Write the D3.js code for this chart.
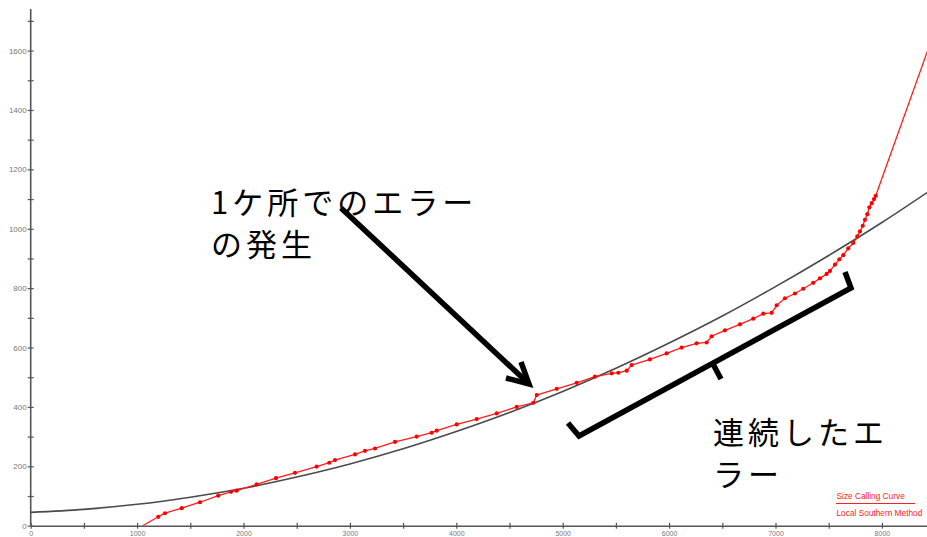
<!DOCTYPE html>
<html>
<head>
<meta charset="utf-8">
<script src="https://cdn.jsdelivr.net/npm/d3@7/dist/d3.min.js"></script>
<style>
  html, body { margin: 0; padding: 0; background: #fff; }
  svg { display: block; }
</style>
</head>
<body>
<svg id="chart" width="927" height="537"></svg>
<script>
// Fragment size (bp) vs. migration — reference curve (black)
const curveSize = [0, 500, 1000, 1500, 2000, 2500, 3000, 3500, 4000, 4500, 5000, 5500, 6000, 6500, 7000, 7500, 8000, 8500];
const curveValue = [45, 55, 72, 96, 126, 164, 208, 259, 317, 381, 452, 530, 615, 706, 805, 910, 1021, 1140];

// Local Southern method estimates (red, with markers)
const southernSize = [1053, 1199, 1262, 1419, 1591, 1763, 1882, 1936, 2124, 2305, 2484, 2688, 2806, 2860,
  3048, 3142, 3236, 3424, 3628, 3769, 3816, 4004, 4192, 4380, 4568, 4724, 4756, 4944, 5132, 5303, 5461,
  5523, 5602, 5648, 5820, 5977, 6118, 6259, 6353, 6400, 6525, 6666, 6791, 6885, 6964, 7011, 7089, 7183,
  7261, 7355, 7418, 7481, 7512, 7559, 7600, 7637, 7684, 7731, 7769, 7794, 7820, 7841, 7863, 7882, 7905,
  7926, 7942, 8430];
const southernValue = [0, 30, 42, 59, 79, 101, 114, 118, 139, 160, 178, 199, 212, 221,
  240, 252, 260, 282, 300, 313, 320, 341, 359, 378, 400, 414, 440, 461, 481, 502, 513,
  515, 522, 541, 560, 580, 600, 614, 617, 638, 658, 678, 697, 714, 717, 742, 766, 782,
  798, 818, 833, 848, 858, 879, 897, 911, 934, 952, 974, 991, 1010, 1030, 1049, 1072, 1086,
  1100, 1111, 1600];

const xTicks = [0, 500, 1000, 1500, 2000, 2500, 3000, 3500, 4000, 4500, 5000, 5500, 6000, 6500, 7000, 7500, 8000, 8500];
const yTicks = [0, 100, 200, 300, 400, 500, 600, 700, 800, 900, 1000, 1100, 1200, 1300, 1400, 1500, 1600, 1700];

const legendLabels = ["Size Calling Curve", "Local Southern Method"];

const svg = d3.select("#chart");

const x = d3.scaleLinear().domain([0, 8500]).range([30.7, 935.1]);
const y = d3.scaleLinear().domain([0, 1740]).range([525.7, 9]);

const axisColor = "#555";
const labelColor = "#777";

// Axes
const yAxis = svg.append("g")
  .attr("transform", `translate(${x(0)},0)`)
  .call(d3.axisLeft(y).tickValues(yTicks).tickSizeOuter(0)
    .tickFormat(d => d % 200 === 0 ? d : ""));
yAxis.select(".domain").attr("stroke", axisColor).attr("stroke-width", 1.6)
  .attr("d", `M0,${y(1740)}V${y(0)}`);
yAxis.selectAll(".tick line").attr("x1", -3).attr("x2", 3).attr("stroke", axisColor).attr("stroke-width", 1.2);
yAxis.selectAll(".tick text").attr("x", -4).attr("fill", labelColor)
  .style("font-family", "Liberation Sans, Arial, sans-serif").style("font-size", "8px");

const xAxis = svg.append("g")
  .attr("transform", `translate(0,${y(0)})`)
  .call(d3.axisBottom(x).tickValues(xTicks).tickSizeOuter(0)
    .tickFormat(d => d % 1000 === 0 ? d : ""));
xAxis.select(".domain").attr("stroke", axisColor).attr("stroke-width", 1.6);
xAxis.selectAll(".tick line").attr("y1", -3).attr("y2", 3).attr("stroke", axisColor).attr("stroke-width", 1.2);
xAxis.selectAll(".tick text").attr("y", 5).attr("dy", "0.71em").attr("fill", labelColor)
  .style("font-family", "Liberation Sans, Arial, sans-serif").style("font-size", "7px");

// Plot clip
svg.append("clipPath").attr("id", "plot")
  .append("rect").attr("x", x(0)).attr("y", 0).attr("width", 927 - x(0)).attr("height", y(0));

const plot = svg.append("g").attr("clip-path", "url(#plot)");

const line = d3.line().x(d => x(d[0])).y(d => y(d[1])).curve(d3.curveMonotoneX);

const curvePts = curveSize.map((s, i) => [s, curveValue[i]]);
plot.append("path").datum(curvePts)
  .attr("d", line)
  .attr("fill", "none")
  .attr("stroke", "#4a4a4a")
  .attr("stroke-width", 1.6);

const redPts = southernSize.map((s, i) => [s, southernValue[i]]);
plot.append("path").datum(redPts)
  .attr("d", d3.line().x(d => x(d[0])).y(d => y(d[1])))
  .attr("fill", "none")
  .attr("stroke", "#ff1a1a")
  .attr("stroke-width", 1.3);

plot.selectAll("circle.pt").data(redPts.slice(1, -1)).join("circle")
  .attr("class", "pt")
  .attr("cx", d => x(d[0]))
  .attr("cy", d => y(d[1]))
  .attr("r", 2.1)
  .attr("fill", "#ff0000");

// Legend
const legend = svg.append("g").style("font-family", "Liberation Sans, Arial, sans-serif")
  .style("font-size", "8.3px").attr("fill", "#ff2020");
legend.append("text").attr("x", 836.5).attr("y", 499).text(legendLabels[0]);
legend.append("line").attr("x1", 836).attr("x2", 915).attr("y1", 503.5).attr("y2", 503.5)
  .attr("stroke", "#ff2020").attr("stroke-width", 1);
legend.append("text").attr("x", 836.5).attr("y", 516).text(legendLabels[1]);

// Annotations
const jp = "Noto Sans CJK JP, sans-serif";
const ann = svg.append("g").style("font-family", jp).style("font-size", "31px")
  .style("letter-spacing", "4px").attr("fill", "#000");
ann.append("text").attr("x", 211).attr("y", 214).text("1ケ所でのエラー");
ann.append("text").attr("x", 211).attr("y", 256).text("の発生");
ann.append("text").attr("x", 713).attr("y", 444).text("連続したエ");
ann.append("text").attr("x", 713).attr("y", 486).text("ラー");

const ink = svg.append("g").attr("fill", "none").attr("stroke", "#000")
  .attr("stroke-width", 5.5).attr("stroke-linecap", "butt").attr("stroke-linejoin", "miter");
// Arrow toward the single jump
ink.append("line").attr("x1", 341).attr("y1", 208).attr("x2", 528).attr("y2", 383);
ink.append("path").attr("d", "M521,362 L529,384 L506,378");
// Bracket along the run of deviating points
ink.append("path").attr("d", "M568,423 L579,436 L851,288 L845,272");
ink.append("path").attr("d", "M713,364 L721,379");
</script>
</body>
</html>
